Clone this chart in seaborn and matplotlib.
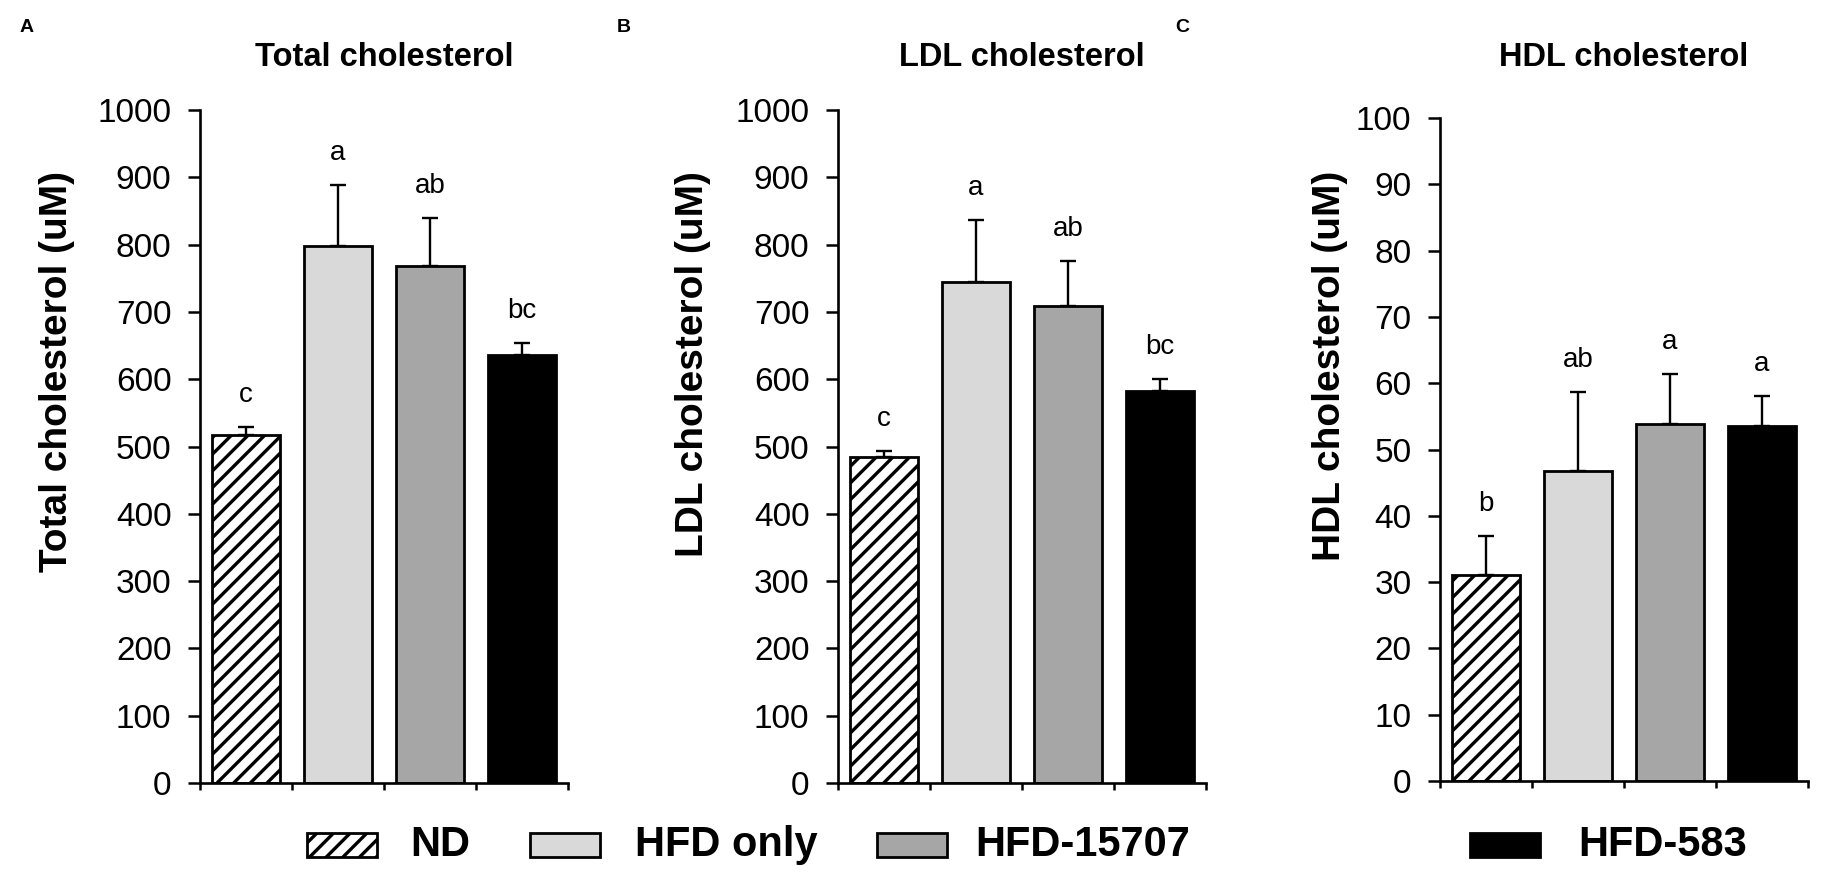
import numpy as np
import pandas as pd
import matplotlib
matplotlib.use("Agg")
import matplotlib.pyplot as plt
from matplotlib.patches import Rectangle
import seaborn as sns

# ---------------- data ----------------
groups = ["ND", "HFD only", "HFD-15707", "HFD-583"]
bar_colors = ["#FFFFFF", "#D9D9D9", "#A6A6A6", "#000000"]

titles = ["Total cholesterol", "LDL cholesterol", "HDL cholesterol"]
ylabels = ["Total cholesterol (uM)", "LDL cholesterol (uM)", "HDL cholesterol (uM)"]
panel_letters = ["A", "B", "C"]

total_mean = [517, 798, 768, 636]
total_err = [12, 90, 71, 18]
total_sig = ["c", "a", "ab", "bc"]

ldl_mean = [485, 745, 709, 582]
ldl_err = [9, 91, 67, 18]
ldl_sig = ["c", "a", "ab", "bc"]

hdl_mean = [31.1, 46.8, 53.9, 53.6]
hdl_err = [5.9, 11.8, 7.5, 4.5]
hdl_sig = ["b", "ab", "a", "a"]

ymax_list = [1000, 1000, 100]
ystep_list = [100, 100, 10]

# ---------------- style ----------------
sns.set_theme(style="white")
plt.rcParams["font.family"] = ["Liberation Sans", "DejaVu Sans"]
plt.rcParams["hatch.linewidth"] = 2.4

W, H = 1833, 875
fig = plt.figure(figsize=(W / 100, H / 100), dpi=100)

# axes geometry in pixels: (left, top, right, bottom)
axes_px = [(200, 110, 568, 783), (838, 110, 1206, 783), (1440, 118, 1808, 781)]
ylabel_center_x = [57, 693, 1330]
ylabel_top_y = 171
letter_x = [27, 624, 1182]

means = [total_mean, ldl_mean, hdl_mean]
errs = [total_err, ldl_err, hdl_err]
sigs = [total_sig, ldl_sig, hdl_sig]

for k in range(3):
    l, t, r, b = axes_px[k]
    ax = fig.add_axes([l / W, 1 - b / H, (r - l) / W, (b - t) / H])
    df = pd.DataFrame({"group": groups, "value": means[k]})
    sns.barplot(data=df, x="group", y="value", hue="group", palette=bar_colors,
                legend=False, width=0.73, edgecolor="black", linewidth=2.0,
                errorbar=None, ax=ax, saturation=1)
    # hatch ND bar
    p0 = ax.patches[0]
    p0.set_hatch("//")
    p0.set_facecolor("white")
    p0.set_edgecolor("black")

    xs = np.arange(len(groups))
    ax.errorbar(xs, means[k], yerr=[np.zeros(len(groups)), errs[k]], fmt="none",
                ecolor="black", elinewidth=1.7, capsize=6, capthick=1.7, zorder=0.5)
    for i in range(len(groups)):
        ax.annotate(sigs[k][i], xy=(xs[i], means[k][i] + errs[k][i]),
                    xytext=(0, 18), textcoords="offset points",
                    ha="center", va="baseline", fontsize=20, color="black")

    ymax = ymax_list[k]
    ax.set_ylim(0, ymax)
    ax.set_yticks(np.arange(0, ymax + 1, ystep_list[k]))
    ax.set_xlim(-0.5, len(groups) - 0.5)
    ax.set_xticks(np.arange(-0.5, len(groups), 1.0))
    ax.set_xticklabels([])
    ax.set_xlabel("")
    ax.tick_params(axis="y", labelsize=24, length=8.6, width=1.8, direction="out",
                   pad=12, color="black", labelcolor="black", left=True)
    ax.tick_params(axis="x", length=5, width=1.8, direction="out", color="black",
                   bottom=True)
    for s in ["top", "right"]:
        ax.spines[s].set_visible(False)
    for s in ["left", "bottom"]:
        ax.spines[s].set_linewidth(1.9)
        ax.spines[s].set_color("black")

    ax.set_ylabel(ylabels[k], fontsize=28, fontweight="bold", color="black")
    ax.yaxis.set_label_coords((ylabel_center_x[k] - l) / (r - l),
                              (b - ylabel_top_y) / (b - t))
    ax.yaxis.label.set_va("center")
    ax.yaxis.label.set_ha("right")

    fig.text((l + r) / 2 / W, 1 - 57 / H, titles[k], ha="center", va="center",
             fontsize=23.5, fontweight="bold", color="black")
    fig.text(letter_x[k] / W, 1 - 28 / H, panel_letters[k], ha="center", va="center",
             fontsize=14, fontweight="bold", color="black")

# ---------------- legend ----------------
patch_x = [307, 530, 877, 1470]
text_x = [410, 635, 975, 1578]
pw, ph, cy = 70, 24, 845
for i, g in enumerate(groups):
    rect = Rectangle((patch_x[i] / W, 1 - (cy + ph / 2) / H), pw / W, ph / H,
                     transform=fig.transFigure, facecolor=bar_colors[i],
                     edgecolor="black", linewidth=2.0,
                     hatch="//" if i == 0 else None)
    fig.add_artist(rect)
    fig.text(text_x[i] / W, 1 - cy / H, g, ha="left", va="center",
             fontsize=30, fontweight="bold", color="black")

fig.savefig("out.png", dpi=100, facecolor="white")
